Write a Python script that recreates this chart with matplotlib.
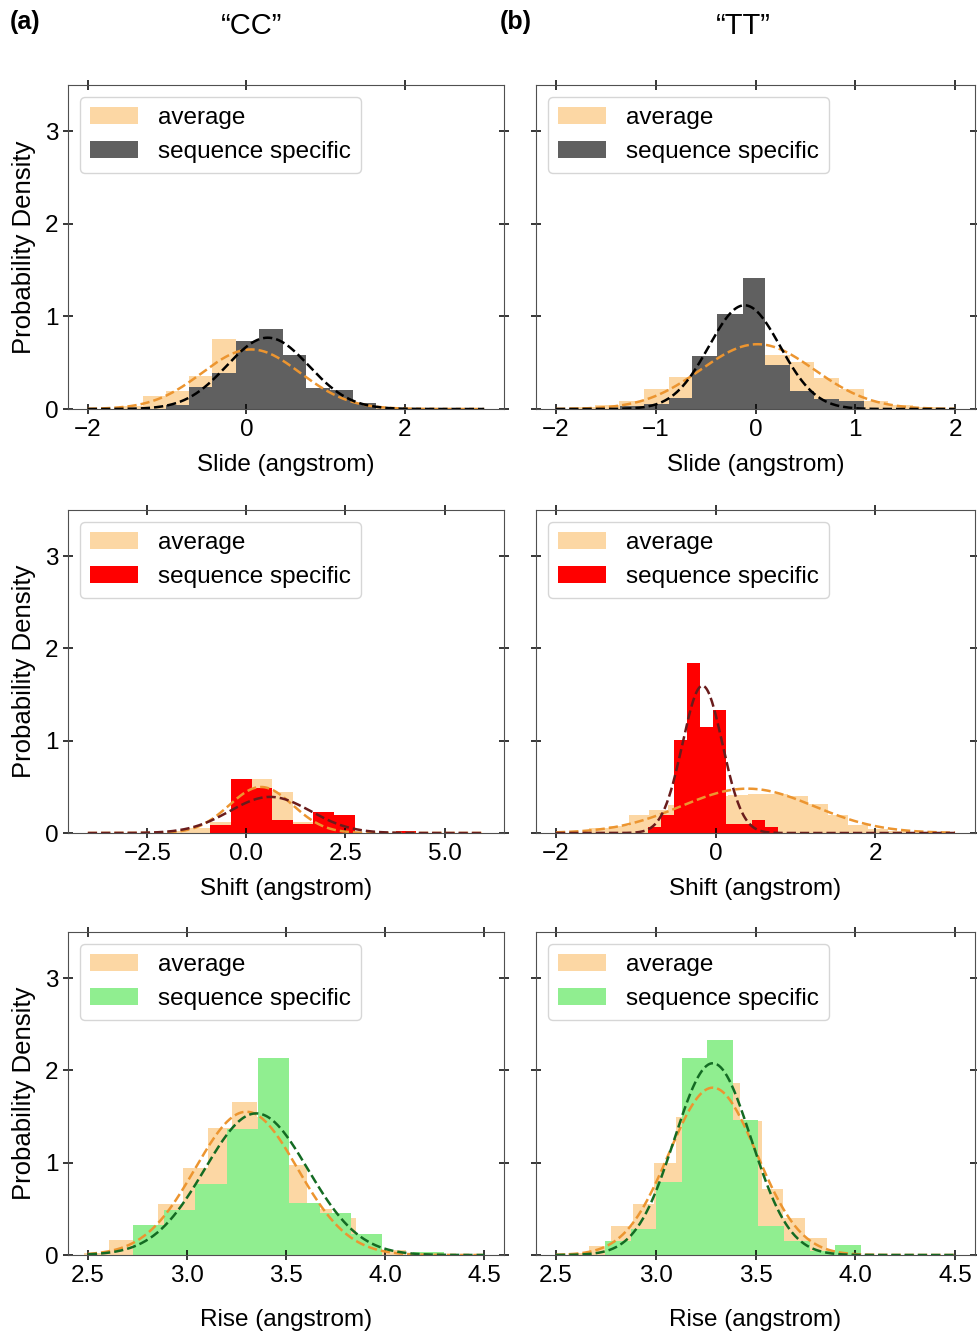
import matplotlib
matplotlib.use("Agg")
import matplotlib.pyplot as plt
import numpy as np

plt.rcParams['font.family'] = ['Liberation Sans', 'DejaVu Sans']
plt.rcParams['font.size'] = 17.5

# ---- data ----
# "CC" slide
cc_slide_avg_edges = [-1.61, -1.31, -1.02, -0.72, -0.43, -0.13, 0.16, 0.46, 0.75, 1.05, 1.34, 1.64, 1.93]
cc_slide_avg_heights = [0.03, 0.14, 0.19, 0.36, 0.76, 0.70, 0.62, 0.45, 0.22, 0.12, 0.05, 0.02]
cc_slide_seq_edges = [-1.02, -0.72, -0.43, -0.13, 0.16, 0.46, 0.75, 1.05, 1.34, 1.64]
cc_slide_seq_heights = [0.04, 0.24, 0.385, 0.73, 0.86, 0.58, 0.23, 0.20, 0.07]
cc_slide_fit = {"avg": (0.06, 0.62), "seq": (0.27, 0.518)}

# "TT" slide
tt_slide_avg_edges = [-1.86, -1.61, -1.37, -1.12, -0.87, -0.64, -0.39, -0.13, 0.10, 0.35, 0.59, 0.84, 1.09, 1.33, 1.58, 1.82]
tt_slide_avg_heights = [0.02, 0.04, 0.09, 0.22, 0.35, 0.50, 0.62, 0.68, 0.58, 0.51, 0.34, 0.22, 0.09, 0.04, 0.02]
tt_slide_seq_edges = [-1.36, -1.12, -0.87, -0.64, -0.39, -0.13, 0.10, 0.35, 0.59, 0.84, 1.09]
tt_slide_seq_heights = [0.03, 0.05, 0.115, 0.575, 1.03, 1.42, 0.475, 0.19, 0.11, 0.085]
tt_slide_fit = {"avg": (0.02, 0.57), "seq": (-0.11, 0.356)}

# "CC" shift
cc_shift_avg_edges = [-1.95, -1.43, -0.91, -0.39, 0.13, 0.65, 1.17, 1.69, 2.21, 2.73]
cc_shift_avg_heights = [0.02, 0.05, 0.12, 0.50, 0.59, 0.44, 0.12, 0.05, 0.02]
cc_shift_seq_edges = [-0.91, -0.39, 0.13, 0.65, 1.17, 1.69, 2.21, 2.73, 3.25, 3.77, 4.29]
cc_shift_seq_heights = [0.09, 0.59, 0.49, 0.14, 0.10, 0.23, 0.20, 0.0, 0.0, 0.02]
cc_shift_fit = {"avg": (0.37, 0.80), "seq": (0.60, 1.02)}

# "TT" shift
tt_shift_avg_edges = [-1.59, -1.34, -1.09, -0.84, -0.59, -0.34, -0.09, 0.16, 0.41, 0.66, 0.91, 1.16, 1.41, 1.66, 1.91, 2.16, 2.41]
tt_shift_avg_heights = [0.05, 0.08, 0.19, 0.25, 0.30, 0.36, 0.40, 0.41, 0.42, 0.42, 0.40, 0.31, 0.20, 0.09, 0.04, 0.02]
tt_shift_seq_edges = [-0.85, -0.687, -0.524, -0.361, -0.198, -0.035, 0.128, 0.291, 0.454, 0.617, 0.78]
tt_shift_seq_heights = [0.06, 0.20, 1.01, 1.84, 1.15, 1.33, 0.10, 0.10, 0.14, 0.06]
tt_shift_fit = {"avg": (0.40, 0.83), "seq": (-0.165, 0.25)}

# "CC" rise
cc_rise_avg_edges = [2.48, 2.605, 2.73, 2.855, 2.98, 3.105, 3.23, 3.355, 3.48, 3.605, 3.73, 3.855, 3.98, 4.105]
cc_rise_avg_heights = [0.02, 0.16, 0.30, 0.55, 0.94, 1.38, 1.66, 1.50, 0.98, 0.50, 0.40, 0.15, 0.05]
cc_rise_seq_edges = [2.729, 2.886, 3.043, 3.200, 3.357, 3.514, 3.671, 3.828, 3.985, 4.142, 4.299]
cc_rise_seq_heights = [0.32, 0.49, 0.77, 1.37, 2.14, 0.56, 0.46, 0.23, 0.0, 0.035]
cc_rise_fit = {"avg": (3.30, 0.257), "seq": (3.35, 0.26)}

# "TT" rise
tt_rise_avg_edges = [2.56, 2.668, 2.776, 2.884, 2.992, 3.10, 3.208, 3.316, 3.424, 3.532, 3.64, 3.748, 3.856, 3.964]
tt_rise_avg_heights = [0.02, 0.10, 0.31, 0.55, 1.00, 1.49, 1.80, 1.86, 1.45, 0.72, 0.40, 0.18, 0.05]
tt_rise_seq_edges = [2.747, 2.875, 3.003, 3.131, 3.259, 3.387, 3.515, 3.643, 3.771, 3.899, 4.027]
tt_rise_seq_heights = [0.15, 0.28, 0.79, 2.14, 2.33, 1.46, 0.31, 0.15, 0.04, 0.11]
tt_rise_fit = {"avg": (3.286, 0.22), "seq": (3.286, 0.192)}

avg_color = "#fcd7a4"
avg_line = "#ec9530"

panels = [
    # row, col, avg edges/heights, seq edges/heights, fit, data range, xticks, xlabel, fill, line
    (0, 0, cc_slide_avg_edges, cc_slide_avg_heights, cc_slide_seq_edges, cc_slide_seq_heights, cc_slide_fit,
     (-2, 3), [-2, 0, 2], "Slide (angstrom)", "#606060", "black"),
    (0, 1, tt_slide_avg_edges, tt_slide_avg_heights, tt_slide_seq_edges, tt_slide_seq_heights, tt_slide_fit,
     (-2, 2), [-2, -1, 0, 1, 2], "Slide (angstrom)", "#606060", "black"),
    (1, 0, cc_shift_avg_edges, cc_shift_avg_heights, cc_shift_seq_edges, cc_shift_seq_heights, cc_shift_fit,
     (-4, 6), [-2.5, 0.0, 2.5, 5.0], "Shift (angstrom)", "red", "#6a1c1c"),
    (1, 1, tt_shift_avg_edges, tt_shift_avg_heights, tt_shift_seq_edges, tt_shift_seq_heights, tt_shift_fit,
     (-2, 3), [-2, 0, 2], "Shift (angstrom)", "red", "#6a1c1c"),
    (2, 0, cc_rise_avg_edges, cc_rise_avg_heights, cc_rise_seq_edges, cc_rise_seq_heights, cc_rise_fit,
     (2.5, 4.5), [2.5, 3.0, 3.5, 4.0, 4.5], "Rise (angstrom)", "lightgreen", "#146b23"),
    (2, 1, tt_rise_avg_edges, tt_rise_avg_heights, tt_rise_seq_edges, tt_rise_seq_heights, tt_rise_fit,
     (2.5, 4.5), [2.5, 3.0, 3.5, 4.0, 4.5], "Rise (angstrom)", "lightgreen", "#146b23"),
]

W, H = 978, 1335
fig = plt.figure(figsize=(W / 100, H / 100), dpi=100)
col_x = [(68, 504), (536, 975)]
row_y = [(85, 409), (510, 833), (932, 1255)]


def gauss(x, mu, sigma):
    return np.exp(-0.5 * ((x - mu) / sigma) ** 2) / (sigma * np.sqrt(2 * np.pi))


for (r, c, ae, ah, se, sh, fit, rng, xt, xlab, fill, line) in panels:
    x0, x1 = col_x[c]
    y0, y1 = row_y[r]
    ax = fig.add_axes([x0 / W, 1 - y1 / H, (x1 - x0) / W, (y1 - y0) / H])
    ae = np.array(ae)
    se = np.array(se)
    ax.bar(ae[:-1], ah, width=np.diff(ae), align="edge", color=avg_color, label="average")
    ax.bar(se[:-1], sh, width=np.diff(se), align="edge", color=fill, label="sequence specific")
    xs = np.linspace(rng[0], rng[1], 400)
    ax.plot(xs, gauss(xs, *fit["avg"]), "--", color=avg_line, lw=1.8)
    ax.plot(xs, gauss(xs, *fit["seq"]), "--", color=line, lw=1.8)
    pad = 0.05 * (rng[1] - rng[0])
    ax.set_xlim(rng[0] - pad, rng[1] + pad)
    ax.set_ylim(0, 3.5)
    ax.set_xticks(xt)
    ax.set_yticks([0, 1, 2, 3])
    ax.tick_params(direction="inout", length=7, width=1.1, top=True, right=True,
                   labeltop=False, labelright=False, labelleft=(c == 0))
    for s in ax.spines.values():
        s.set_color("#505050")
    ax.set_xlabel(xlab, labelpad=16 if r == 2 else 9.5)
    if c == 0:
        ax.set_ylabel("Probability Density", fontsize=18.5, labelpad=6)
    ax.legend(loc="upper left")

fig.text(10 / W, 1 - 22 / H, "(a)", fontsize=18, fontweight="bold", va="center", ha="left")
fig.text(252 / W, 1 - 26 / H, "\u201cCC\u201d", fontsize=21, va="center", ha="center")
fig.text(500 / W, 1 - 22 / H, "(b)", fontsize=18, fontweight="bold", va="center", ha="left")
fig.text(743 / W, 1 - 26 / H, "\u201cTT\u201d", fontsize=21, va="center", ha="center")

fig.savefig("out.png", dpi=100)
